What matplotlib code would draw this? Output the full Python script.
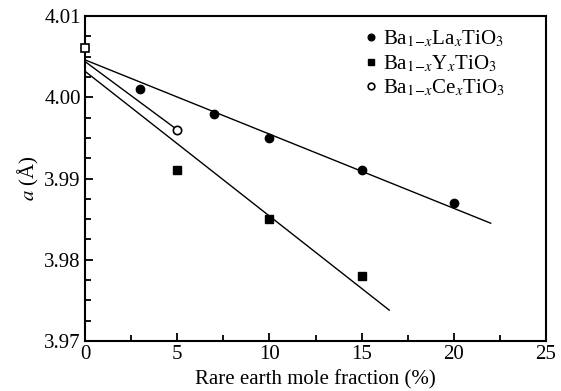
import matplotlib
matplotlib.use('Agg')
import matplotlib.pyplot as plt
from matplotlib.ticker import MultipleLocator, FormatStrFormatter

plt.rcParams['font.family'] = ['Liberation Serif', 'DejaVu Serif']
plt.rcParams['mathtext.fontset'] = 'stix'

# data
la_x = [3, 7, 10, 15, 20]
la_a = [4.001, 3.998, 3.995, 3.991, 3.987]
y_x = [5, 10, 15]
y_a = [3.991, 3.985, 3.978]
ce_x = [5]
ce_a = [3.996]
pure_x = [0]
pure_a = [4.006]

# fitted lines (end points)
la_fit_x = [0, 22]
la_fit_a = [4.0046, 3.9845]
y_fit_x = [0, 16.5]
y_fit_a = [4.0032, 3.9738]
ce_fit_x = [0, 5]
ce_fit_a = [4.0044, 3.996]

fig = plt.figure(figsize=(5.61, 3.91), dpi=100)
ax = fig.add_axes([85 / 561, 1 - 341 / 391, 461 / 561, 325 / 391])

ax.plot(la_fit_x, la_fit_a, color='black', lw=1)
ax.plot(y_fit_x, y_fit_a, color='black', lw=1)
ax.plot(ce_fit_x, ce_fit_a, color='black', lw=1)

ax.plot(la_x, la_a, 'o', color='black', ms=6, label=r'Ba$_{1\!-\!x}$La$_x$TiO$_3$')
ax.plot(y_x, y_a, 's', color='black', ms=6, label=r'Ba$_{1\!-\!x}$Y$_x$TiO$_3$')
ax.plot(ce_x, ce_a, 'o', mfc='white', mec='black', mew=1.2, ms=6,
        label=r'Ba$_{1\!-\!x}$Ce$_x$TiO$_3$', clip_on=False)
ax.plot(pure_x, pure_a, 's', mfc='white', mec='black', mew=1.2, ms=6, clip_on=False, zorder=5)

ax.set_xlim(0, 25)
ax.set_ylim(3.97, 4.01)
ax.xaxis.set_major_locator(MultipleLocator(5))
ax.xaxis.set_minor_locator(MultipleLocator(2.5))
ax.yaxis.set_major_locator(MultipleLocator(0.01))
ax.yaxis.set_minor_locator(MultipleLocator(0.0025))
ax.yaxis.set_major_formatter(FormatStrFormatter('%.2f'))

ax.tick_params(which='both', direction='in', top=False, right=False, labelsize=15, width=1.3)
ax.tick_params(which='major', length=6, pad=3)
ax.tick_params(which='minor', length=4)
for s in ax.spines.values():
    s.set_linewidth(1.5)

ax.set_xlabel('Rare earth mole fraction (%)', fontsize=15, labelpad=4)
ax.set_ylabel(r'$a$ (Å)', fontsize=15, labelpad=2)

ax.legend(loc='upper left', frameon=False, fontsize=15, handlelength=0.5,
          handletextpad=0.35, labelspacing=0.2, borderaxespad=0.0, borderpad=0.2,
          markerscale=0.8, bbox_to_anchor=(0.6, 0.975))

fig.savefig('out.png', dpi=100)
